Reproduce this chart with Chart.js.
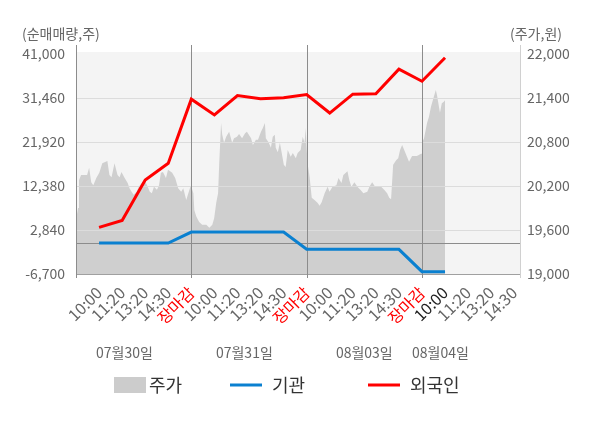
<!DOCTYPE html>
<html>
<head>
<meta charset="utf-8">
<script src="https://cdn.jsdelivr.net/npm/chart.js@4"></script>
<style>
  html, body { margin: 0; padding: 0; background: #fff; }
  #wrap { width: 600px; height: 428px; }
</style>
</head>
<body>
<div id="wrap"><canvas id="chart"></canvas></div>
<script>
// x axis: one slot per label, 5 slots per trading day
const slotLabels = ['10:00', '11:20', '13:20', '14:30', '장마감'];
const dayLabels = ['07월30일', '07월31일', '08월03일', '08월04일'];
const dayLabelSlots = [2.1, 7.3, 12.5, 15.8];
const currentSlot = 16;

// net buying (주) at each slot
const flowSlots = [1, 2, 3, 4, 5, 6, 7, 8, 9, 10, 11, 12, 13, 14, 15, 16];
const foreign = [3400, 4900, 13700, 17300, 31200, 27800, 32000, 31300, 31500, 32200, 28200, 32300, 32400, 37700, 35100, 40200];
const institution = [0, 0, 0, 0, 2400, 2400, 2400, 2400, 2400, -1350, -1350, -1350, -1350, -1350, -6200, -6200];

// intraday price (원)
const priceSlots = [
  0, 0.09, 0.13, 0.22, 0.48, 0.57, 0.66, 0.75, 0.88, 1.01, 1.14, 1.36, 1.45, 1.54, 1.67, 1.80, 1.89, 1.97,
  2.11, 2.24, 2.32, 2.41, 2.50, 2.63, 2.72, 2.85, 2.98, 3.11, 3.20, 3.29, 3.38, 3.51, 3.60, 3.68, 3.77, 3.90,
  3.99, 4.17, 4.30, 4.43, 4.56, 4.65, 4.78, 4.87, 4.96,
  5.00, 5.09, 5.13, 5.22, 5.34, 5.47, 5.65, 5.78, 5.91, 5.99, 6.08, 6.16, 6.21, 6.29, 6.34, 6.42, 6.51, 6.64,
  6.77, 6.85, 6.98, 7.07, 7.20, 7.33, 7.41, 7.59, 7.67, 7.80, 7.89, 8.02, 8.10, 8.19, 8.23, 8.36, 8.45, 8.53,
  8.62, 8.66, 8.75, 8.84, 8.92, 9.01, 9.09, 9.18, 9.31, 9.40, 9.53, 9.61, 9.74, 9.83, 9.91, 9.96,
  10.00, 10.04, 10.13, 10.22, 10.34, 10.47, 10.56, 10.65, 10.78, 10.91, 10.99, 11.12, 11.29, 11.38, 11.51,
  11.59, 11.77, 11.85, 11.94, 12.07, 12.20, 12.33, 12.46, 12.63, 12.72, 12.84, 12.97, 13.10, 13.23, 13.36,
  13.49, 13.58, 13.66, 13.75, 13.88, 13.97, 14.05, 14.14, 14.27, 14.35, 14.44, 14.57, 14.78, 14.96,
  15.00, 15.09, 15.22, 15.30, 15.39, 15.47, 15.60, 15.65, 15.78, 15.86, 15.95, 16.00
];
const priceValues = [
  19740, 19900, 20280, 20350, 20350, 20450, 20250, 20210, 20310, 20380, 20510, 20540, 20350, 20320, 20510, 20350, 20320, 20390,
  20310, 20240, 20170, 20120, 20080, 20120, 20190, 20240, 20280, 20190, 20120, 20100, 20190, 20150, 20210, 20380, 20390, 20310,
  20420, 20380, 20310, 20170, 20120, 20170, 20010, 20100, 20190,
  20190, 20100, 19870, 19780, 19710, 19670, 19670, 19630, 19670, 19760, 19970, 20100, 20510, 21060, 20900, 20790, 20870, 20940,
  20790, 20850, 20870, 20910, 20850, 20920, 20940, 20850, 20760, 20830, 20830, 20940, 20990, 21060, 20850, 20790, 20720, 20870,
  20900, 20720, 20660, 20790, 20650, 20490, 20460, 20690, 20600, 20650, 20580, 20650, 20690, 20870, 20790, 20990,
  20720, 20510, 20320, 20040, 20010, 19970, 19930, 19980, 20100, 20190, 20120, 20190, 20210, 20310, 20240,
  20350, 20400, 20280, 20190, 20250, 20190, 20150, 20100, 20120, 20190, 20250, 20190, 20190, 20190, 20150,
  20100, 20040, 20020, 20490, 20550, 20580, 20690, 20760, 20660, 20600, 20530, 20610, 20610, 20640,
  20790, 20850, 21060, 21140, 21280, 21370, 21510, 21440, 21200, 21330, 21350, 21370
];

const leftTicks = [-6700, 2840, 12380, 21920, 31460, 41000];
const rightTicks = [19000, 19600, 20200, 20800, 21400, 22000];

const FONT = '"Noto Sans CJK KR", "Noto Sans", sans-serif';
const fmt = (v) => v.toLocaleString('en-US');

const frame = {
  id: 'frame',
  beforeDraw(chart) {
    const { ctx, chartArea: a } = chart;
    ctx.save();
    ctx.fillStyle = '#f4f4f4';
    ctx.fillRect(a.left, a.top - 2, a.right - a.left, a.bottom - a.top + 2);
    ctx.restore();
  },
  afterDatasetDraw(chart, args) {
    if (args.index !== 2) return; // after the price area, below the lines
    const { ctx, chartArea: a, scales } = chart;
    ctx.save();
    ctx.lineWidth = 1;
    // horizontal grid
    ctx.strokeStyle = '#dcdcdc';
    leftTicks.slice(1, -1).forEach((t) => {
      const y = Math.round(scales.y.getPixelForValue(t)) + 0.5;
      ctx.beginPath(); ctx.moveTo(a.left, y); ctx.lineTo(a.right, y); ctx.stroke();
    });
    // zero line
    ctx.strokeStyle = '#8c8c8c';
    let y0 = Math.round(scales.y.getPixelForValue(0)) + 0.5;
    ctx.beginPath(); ctx.moveTo(a.left, y0); ctx.lineTo(a.right, y0); ctx.stroke();
    // bottom axis
    ctx.strokeStyle = '#a0a0a0';
    ctx.beginPath(); ctx.moveTo(a.left, a.bottom + 0.5); ctx.lineTo(a.right, a.bottom + 0.5); ctx.stroke();
    // day separators
    ctx.strokeStyle = '#8c8c8c';
    [0, 5, 10, 15].forEach((s) => {
      const x = Math.round(scales.x.getPixelForValue(s)) + 0.5;
      ctx.beginPath(); ctx.moveTo(x, a.top - 9); ctx.lineTo(x, a.bottom + 4); ctx.stroke();
    });
    ctx.strokeStyle = '#d0d0d0';
    const xr = Math.round(a.right) + 0.5;
    ctx.beginPath(); ctx.moveTo(xr, a.top - 9); ctx.lineTo(xr, a.bottom + 4); ctx.stroke();
    ctx.restore();
  },
  afterDraw(chart) {
    const { ctx, scales } = chart;
    ctx.save();
    ctx.font = '14px ' + FONT;
    ctx.fillStyle = '#666';
    ctx.textBaseline = 'middle';
    ctx.textAlign = 'left';
    ctx.fillText('(순매매량,주)', 22, 34);
    ctx.textAlign = 'right';
    ctx.fillText('(주가,원)', 562, 34);
    ctx.textAlign = 'center';
    dayLabels.forEach((d, i) => {
      ctx.fillText(d, scales.x.getPixelForValue(dayLabelSlots[i]), 353);
    });
    // legend
    ctx.font = '18px ' + FONT;
    ctx.textAlign = 'left';
    const ly = 385;
    ctx.fillStyle = '#cccccc';
    ctx.fillRect(114, ly - 8, 32, 16);
    ctx.fillStyle = '#333';
    ctx.fillText('주가', 149, ly);
    ctx.strokeStyle = '#0a80d0';
    ctx.lineWidth = 3;
    ctx.beginPath(); ctx.moveTo(230, ly); ctx.lineTo(262, ly); ctx.stroke();
    ctx.fillText('기관', 272, ly);
    ctx.strokeStyle = '#ff0000';
    ctx.beginPath(); ctx.moveTo(368, ly); ctx.lineTo(400, ly); ctx.stroke();
    ctx.fillText('외국인', 410, ly);
    ctx.restore();
  }
};

new Chart(document.getElementById('chart'), {
  type: 'line',
  data: {
    datasets: [
      {
        label: '외국인',
        data: foreign.map((v, i) => ({ x: flowSlots[i], y: v })),
        yAxisID: 'y',
        borderColor: '#ff0000',
        borderWidth: 3,
        pointRadius: 0,
        tension: 0,
        fill: false,
        order: 1
      },
      {
        label: '기관',
        data: institution.map((v, i) => ({ x: flowSlots[i], y: v })),
        yAxisID: 'y',
        borderColor: '#0a80d0',
        borderWidth: 3,
        pointRadius: 0,
        tension: 0,
        fill: false,
        order: 2
      },
      {
        label: '주가',
        data: priceValues.map((v, i) => ({ x: priceSlots[i], y: v })),
        yAxisID: 'y1',
        borderWidth: 0,
        borderColor: 'rgba(0,0,0,0)',
        backgroundColor: '#cfcfcf',
        pointRadius: 0,
        tension: 0,
        fill: 'start',
        order: 3
      }
    ]
  },
  options: {
    responsive: true,
    maintainAspectRatio: false,
    animation: false,
    layout: { padding: { top: 54, left: 0, right: 0, bottom: 0 } },
    plugins: { legend: { display: false }, tooltip: { enabled: false } },
    scales: {
      x: {
        type: 'linear',
        min: 0,
        max: 19.25,
        afterFit: (s) => { s.height = 154; },
        afterBuildTicks: (s) => {
          s.ticks = Array.from({ length: 20 }, (_, i) => ({ value: i }));
        },
        grid: { display: false, drawTicks: true, tickLength: 4 },
        border: { display: false },
        ticks: {
          autoSkip: false,
          minRotation: 45,
          maxRotation: 45,
          padding: 5,
          font: { family: FONT, size: 16 },
          color: (c) => {
            const v = c.tick.value;
            if (v % 5 === 0) return '#ff0000';
            if (v === currentSlot) return '#222';
            return '#666';
          },
          callback: (v) => (v === 0 ? '' : slotLabels[(v - 1) % 5])
        }
      },
      y: {
        position: 'left',
        min: leftTicks[0],
        max: leftTicks[leftTicks.length - 1],
        afterFit: (s) => { s.width = 76; },
        afterBuildTicks: (s) => { s.ticks = leftTicks.map((v) => ({ value: v })); },
        grid: { display: false, drawTicks: false },
        border: { display: false },
        ticks: {
          padding: 11,
          font: { family: FONT, size: 14 },
          color: '#666',
          callback: (v) => fmt(v)
        }
      },
      y1: {
        position: 'right',
        min: rightTicks[0],
        max: rightTicks[rightTicks.length - 1],
        afterFit: (s) => { s.width = 80; },
        afterBuildTicks: (s) => { s.ticks = rightTicks.map((v) => ({ value: v })); },
        grid: { display: false, drawTicks: false },
        border: { display: false },
        ticks: {
          padding: 7,
          font: { family: FONT, size: 14 },
          color: '#666',
          callback: (v) => fmt(v)
        }
      }
    }
  },
  plugins: [frame]
});
</script>
</body>
</html>
